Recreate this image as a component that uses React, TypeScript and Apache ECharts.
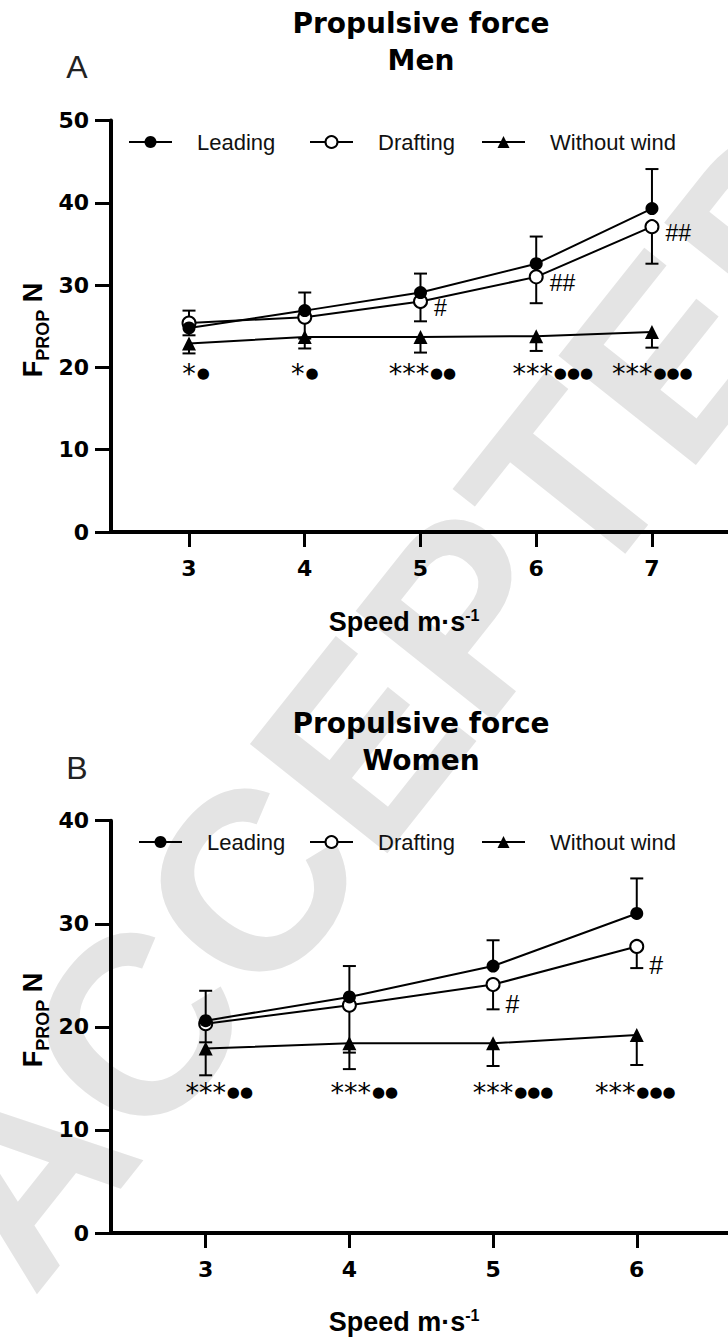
import React, { useEffect, useRef } from "react";
import * as echarts from "echarts";

// ---------- Data ----------
const menSpeeds = [3, 4, 5, 6, 7];
const menLeading = [24.8, 26.9, 29.1, 32.6, 39.3];
const menLeadingUpper = [26.9, 29.1, 31.4, 35.9, 44.1];
const menDrafting = [25.4, 26.1, 28.0, 31.0, 37.1];
const menDraftingLower = [23.9, 23.5, 25.6, 27.8, 32.6];
const menNoWind = [22.9, 23.7, 23.7, 23.8, 24.3];
const menNoWindLower = [21.7, 22.3, 21.8, 22.0, 22.4];
const menHash = ["", "", "#", "##", "##"];
const menStars = ["*", "*", "***", "***", "***"];
const menDots = ["●", "●", "●●", "●●●", "●●●"];
const menStarX = [3, 3.94, 4.9, 5.97, 6.83];
const menStarRow = 19.2;

const womenSpeeds = [3, 4, 5, 6];
const womenLeading = [20.6, 22.9, 25.9, 31.0];
const womenLeadingUpper = [23.5, 25.9, 28.4, 34.4];
const womenDrafting = [20.3, 22.1, 24.1, 27.8];
const womenDraftingLower = [18.5, 17.5, 21.7, 25.7];
const womenNoWind = [17.9, 18.4, 18.4, 19.2];
const womenNoWindLower = [15.3, 15.9, 16.2, 16.3];
const womenHash = ["", "", "#", "#"];
const womenStars = ["***", "***", "***", "***"];
const womenDots = ["●●", "●●", "●●●", "●●●"];
const womenStarX = [3, 4.01, 5, 5.85];
const womenStarRow = 13.6;

const menYTicks = [0, 10, 20, 30, 40, 50];
const womenYTicks = [0, 10, 20, 30, 40];

// ---------- Styles ----------
const BOLD_DIGITS = "DejaVu Sans";
const ARIAL = "Liberation Sans, Arial, sans-serif";

function errorBarSeries(name: string, xs: number[], vals: number[], ends: number[], gi: number) {
  return {
    type: "custom",
    name: name + "-err",
    xAxisIndex: gi,
    yAxisIndex: gi,
    silent: true,
    z: 2,
    data: xs.map((x, i) => [x, vals[i], ends[i]]),
    encode: { x: 0, y: [1, 2] },
    renderItem: (params: any, api: any) => {
      const x = api.value(0);
      const p0 = api.coord([x, api.value(1)]);
      const p1 = api.coord([x, api.value(2)]);
      const hw = 6.5;
      return {
        type: "group",
        children: [
          { type: "line", shape: { x1: p0[0], y1: p0[1], x2: p1[0], y2: p1[1] }, style: { stroke: "#000", lineWidth: 2 } },
          { type: "line", shape: { x1: p1[0] - hw, y1: p1[1], x2: p1[0] + hw, y2: p1[1] }, style: { stroke: "#000", lineWidth: 2 } },
        ],
      };
    },
  };
}

function panelSeries(gi: number, xs: number[], lead: number[], leadUp: number[], draft: number[], draftLo: number[], nw: number[], nwLo: number[], hash: string[], hashSize: number, hashOffset: number[], stars: string[], dots: string[], starX: number[], starRow: number) {
  const lineCommon = {
    type: "line",
    xAxisIndex: gi,
    yAxisIndex: gi,
    z: 4,
    lineStyle: { color: "#000", width: 2 },
    emphasis: { disabled: true },
  };
  return [
    errorBarSeries("Leading", xs, lead, leadUp, gi),
    errorBarSeries("Drafting", xs, draft, draftLo, gi),
    errorBarSeries("Without wind", xs, nw, nwLo, gi),
    {
      ...lineCommon,
      name: "Without wind",
      symbol: "triangle",
      symbolSize: 14,
      itemStyle: { color: "#000" },
      data: xs.map((x, i) => [x, nw[i]]),
    },
    {
      ...lineCommon,
      name: "Drafting",
      symbol: "circle",
      symbolSize: 13,
      itemStyle: { color: "#fff", borderColor: "#000", borderWidth: 2 },
      data: xs.map((x, i) => [x, draft[i]]),
      label: {
        show: true,
        position: "right",
        distance: 5,
        offset: hashOffset,
        formatter: (p: any) => hash[p.dataIndex] || "",
        fontFamily: ARIAL,
        fontSize: hashSize,
        color: "#000",
      },
    },
    {
      ...lineCommon,
      name: "Leading",
      symbol: "circle",
      symbolSize: 13,
      itemStyle: { color: "#000" },
      data: xs.map((x, i) => [x, lead[i]]),
    },
    {
      type: "scatter",
      name: "stars" + gi,
      xAxisIndex: gi,
      yAxisIndex: gi,
      silent: true,
      symbolSize: 1,
      itemStyle: { color: "transparent" },
      data: starX.map((x) => [x, starRow]),
      label: {
        show: true,
        position: "inside",
        formatter: (p: any) => stars[p.dataIndex],
        fontFamily: "DejaVu Sans",
        fontSize: 27,
        color: "#000",
        textBorderWidth: 0,
        opacity: 1,
      },
    },
    {
      type: "scatter",
      name: "dots" + gi,
      xAxisIndex: gi,
      yAxisIndex: gi,
      silent: true,
      symbolSize: 1,
      itemStyle: { color: "transparent" },
      data: starX.map((x, i) => ({
        value: [x, starRow],
        label: { offset: [stars[i].length * 6.7 + 1, -1] },
      })),
      label: {
        show: true,
        position: "inside",
        align: "left",
        formatter: (p: any) => dots[p.dataIndex],
        fontFamily: "DejaVu Sans",
        fontSize: 15,
        color: "#000",
        textBorderWidth: 0,
        opacity: 1,
      },
    },
  ];
}

function xAxisCfg(gi: number, min: number, max: number, ticks: number[]) {
  return {
    type: "value",
    gridIndex: gi,
    min,
    max,
    axisLine: { show: true, onZero: false, lineStyle: { color: "#000", width: 4 } },
    axisTick: { show: true, length: 15, customValues: ticks, lineStyle: { color: "#000", width: 3 } },
    axisLabel: { customValues: ticks, margin: 25, fontFamily: BOLD_DIGITS, fontWeight: "bold", fontSize: 22, color: "#000" },
    splitLine: { show: false },
  };
}

function yAxisCfg(gi: number, ticks: number[]) {
  return {
    type: "value",
    gridIndex: gi,
    min: ticks[0],
    max: ticks[ticks.length - 1],
    interval: ticks[1] - ticks[0],
    axisLine: { show: true, onZero: false, lineStyle: { color: "#000", width: 4 } },
    axisTick: { show: true, length: 16, lineStyle: { color: "#000", width: 3 } },
    axisLabel: { margin: 22, fontFamily: BOLD_DIGITS, fontWeight: "bold", fontSize: 22, color: "#000" },
    splitLine: { show: false },
  };
}

function legendCfg(name: string, left: number, top: number) {
  return {
    data: [name],
    left,
    top,
    padding: 0,
    itemWidth: 43,
    itemHeight: 15,
    selectedMode: false,
    textStyle: { fontFamily: ARIAL, fontSize: 22, color: "#111", padding: [0, 0, 0, 20], lineHeight: 24 },
  };
}

function titleGraphic(line1: string, line2: string, y: number) {
  return {
    type: "text",
    x: 421,
    y,
    style: {
      text: line1 + "\n" + line2,
      fontFamily: "DejaVu Sans",
      fontWeight: "bold",
      fontSize: 28,
      lineHeight: 37,
      fill: "#000",
      align: "center",
      verticalAlign: "top",
    },
  };
}

function yNameGraphic(y: number) {
  return {
    type: "text",
    x: 33,
    y,
    rotation: Math.PI / 2,
    style: {
      text: "{f|F}{s|PROP}{n| N}",
      align: "center",
      verticalAlign: "middle",
      rich: {
        f: { fontFamily: ARIAL, fontWeight: "bold", fontSize: 27, fill: "#000", lineHeight: 30, verticalAlign: "middle" },
        s: { fontFamily: ARIAL, fontWeight: "bold", fontSize: 18, fill: "#000", lineHeight: 30, verticalAlign: "bottom", padding: [0, 0, -4, 0] },
        n: { fontFamily: ARIAL, fontWeight: "bold", fontSize: 27, fill: "#000", lineHeight: 30, verticalAlign: "middle" },
      },
    },
  };
}

function xNameGraphic(y: number) {
  return {
    type: "text",
    x: 404,
    y,
    style: {
      text: "{a|Speed m·s}{b|-1}",
      align: "center",
      verticalAlign: "middle",
      rich: {
        a: { fontFamily: ARIAL, fontWeight: "bold", fontSize: 27, fill: "#000", lineHeight: 30, verticalAlign: "middle" },
        b: { fontFamily: ARIAL, fontWeight: "bold", fontSize: 16, fill: "#000", lineHeight: 30, verticalAlign: "top" },
      },
    },
  };
}

function letterGraphic(t: string, y: number) {
  return {
    type: "text",
    x: 77,
    y,
    style: { text: t, fontFamily: ARIAL, fontSize: 32, fill: "#222", align: "center", verticalAlign: "middle" },
  };
}

const option: any = {
  animation: false,
  backgroundColor: "#fff",
  grid: [
    { left: 111, top: 120.5, width: 617, height: 411.5 },
    { left: 111, top: 820.7, width: 617, height: 412.3 },
  ],
  xAxis: [xAxisCfg(0, 2.326, 7.657, menSpeeds), xAxisCfg(1, 2.341, 6.635, womenSpeeds)],
  yAxis: [yAxisCfg(0, menYTicks), yAxisCfg(1, womenYTicks)],
  legend: [
    legendCfg("Leading", 128, 130),
    legendCfg("Drafting", 309, 130),
    legendCfg("Without wind", 481, 130),
    legendCfg("Leading", 138, 830),
    legendCfg("Drafting", 309, 830),
    legendCfg("Without wind", 481, 830),
  ],
  graphic: [
    {
      type: "text",
      x: 400,
      y: 695,
      z: -10,
      rotation: 0.9,
      silent: true,
      style: {
        text: "ACCEPTED",
        fontFamily: ARIAL,
        fontWeight: "bold",
        fontSize: 255,
        fill: "#e4e4e4",
        align: "center",
        verticalAlign: "middle",
      },
    },
    titleGraphic("Propulsive force", "Men", 5),
    titleGraphic("Propulsive force", "Women", 705),
    letterGraphic("A", 67),
    letterGraphic("B", 768),
    yNameGraphic(330),
    yNameGraphic(1020),
    xNameGraphic(622),
    xNameGraphic(1322),
  ],
  series: [
    ...panelSeries(0, menSpeeds, menLeading, menLeadingUpper, menDrafting, menDraftingLower, menNoWind, menNoWindLower, menHash, 23, [1, 6], menStars, menDots, menStarX, menStarRow),
    ...panelSeries(1, womenSpeeds, womenLeading, womenLeadingUpper, womenDrafting, womenDraftingLower, womenNoWind, womenNoWindLower, womenHash, 25, [0, 19], womenStars, womenDots, womenStarX, womenStarRow),
  ],
};

export default function App() {
  const ref = useRef<HTMLDivElement>(null);
  useEffect(() => {
    document.body.style.margin = "0";
    const chart = echarts.init(ref.current as HTMLDivElement, null, { renderer: "svg" });
    chart.setOption(option);
    return () => chart.dispose();
  }, []);
  return <div ref={ref} style={{ width: 728, height: 1341 }} />;
}
